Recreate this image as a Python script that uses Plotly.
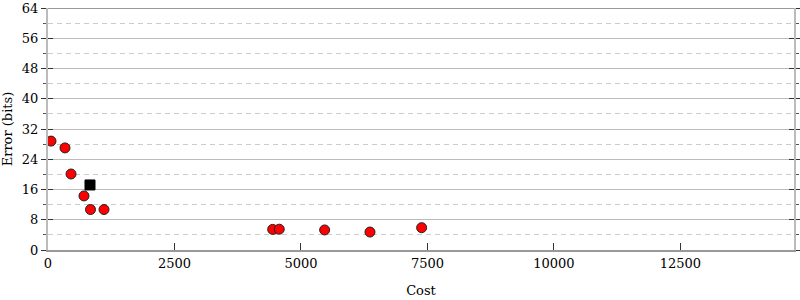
import plotly.graph_objects as go

cost_red = [59, 336, 455, 711, 840, 1107, 4441, 4571, 5468, 6364, 7385]
err_red = [28.8, 27.0, 20.1, 14.3, 10.7, 10.7, 5.45, 5.5, 5.3, 4.75, 5.9]
cost_black = [830]
err_black = [17.2]
x_ticks = [0, 2500, 5000, 7500, 10000, 12500]
y_ticks = [0, 8, 16, 24, 32, 40, 48, 56, 64]

FONT = "DejaVu Serif"

fig = go.Figure()
fig.add_trace(go.Scatter(x=cost_red, y=err_red, mode="markers",
                         marker=dict(symbol="circle", size=10, color="#ff0000",
                                     line=dict(color="#222", width=1)),
                         showlegend=False))
fig.add_trace(go.Scatter(x=cost_black, y=err_black, mode="markers",
                         marker=dict(symbol="square", size=10, color="#000",
                                     line=dict(color="#000", width=1)),
                         showlegend=False))
fig.add_trace(go.Scatter(x=[0], y=[0], mode="markers", marker=dict(opacity=0),
                         yaxis="y2", showlegend=False, hoverinfo="skip"))

fig.update_layout(
    width=800, height=300,
    margin=dict(l=48, r=6, t=8, b=50, autoexpand=False),
    paper_bgcolor="white", plot_bgcolor="white",
    font=dict(family=FONT, size=13, color="#000"),
    xaxis=dict(range=[0, 14745], tickvals=x_ticks, ticktext=[str(v) for v in x_ticks],
               ticks="inside", ticklen=7, tickcolor="#333", tickwidth=1,
               showgrid=False, zeroline=False, automargin=False,
               showline=True, linecolor="#999", linewidth=2, mirror=False,
               title=dict(text="Cost", font=dict(family=FONT, size=13), standoff=16)),
    yaxis=dict(range=[0, 64], tickvals=y_ticks, ticktext=[str(v) for v in y_ticks],
               ticks="outside", ticklen=5, tickcolor="#333", tickwidth=1,
               showgrid=True, gridcolor="#bbb", gridwidth=1, zeroline=False,
               automargin=False,
               showline=True, linecolor="#bbb", linewidth=2, mirror="ticks",
               minor=dict(tickvals=[4, 12, 20, 28, 36, 44, 52, 60], ticks="outside",
                          ticklen=3, tickcolor="#555", showgrid=True,
                          gridcolor="#ccc", griddash="5px,4px", gridwidth=1),
               title=dict(text="Error (bits)", font=dict(family=FONT, size=13), standoff=6)),
    yaxis2=dict(range=[0, 64], overlaying="y", tickvals=y_ticks, showticklabels=False,
                ticks="inside", ticklen=5, tickcolor="#333", showgrid=False, zeroline=False,
                showline=False, mirror="ticks", automargin=False),
)
fig.add_shape(type="line", xref="paper", yref="y", x0=0, x1=1, y0=64, y1=64,
              line=dict(color="#999", width=2))
fig.write_html("out.html")
